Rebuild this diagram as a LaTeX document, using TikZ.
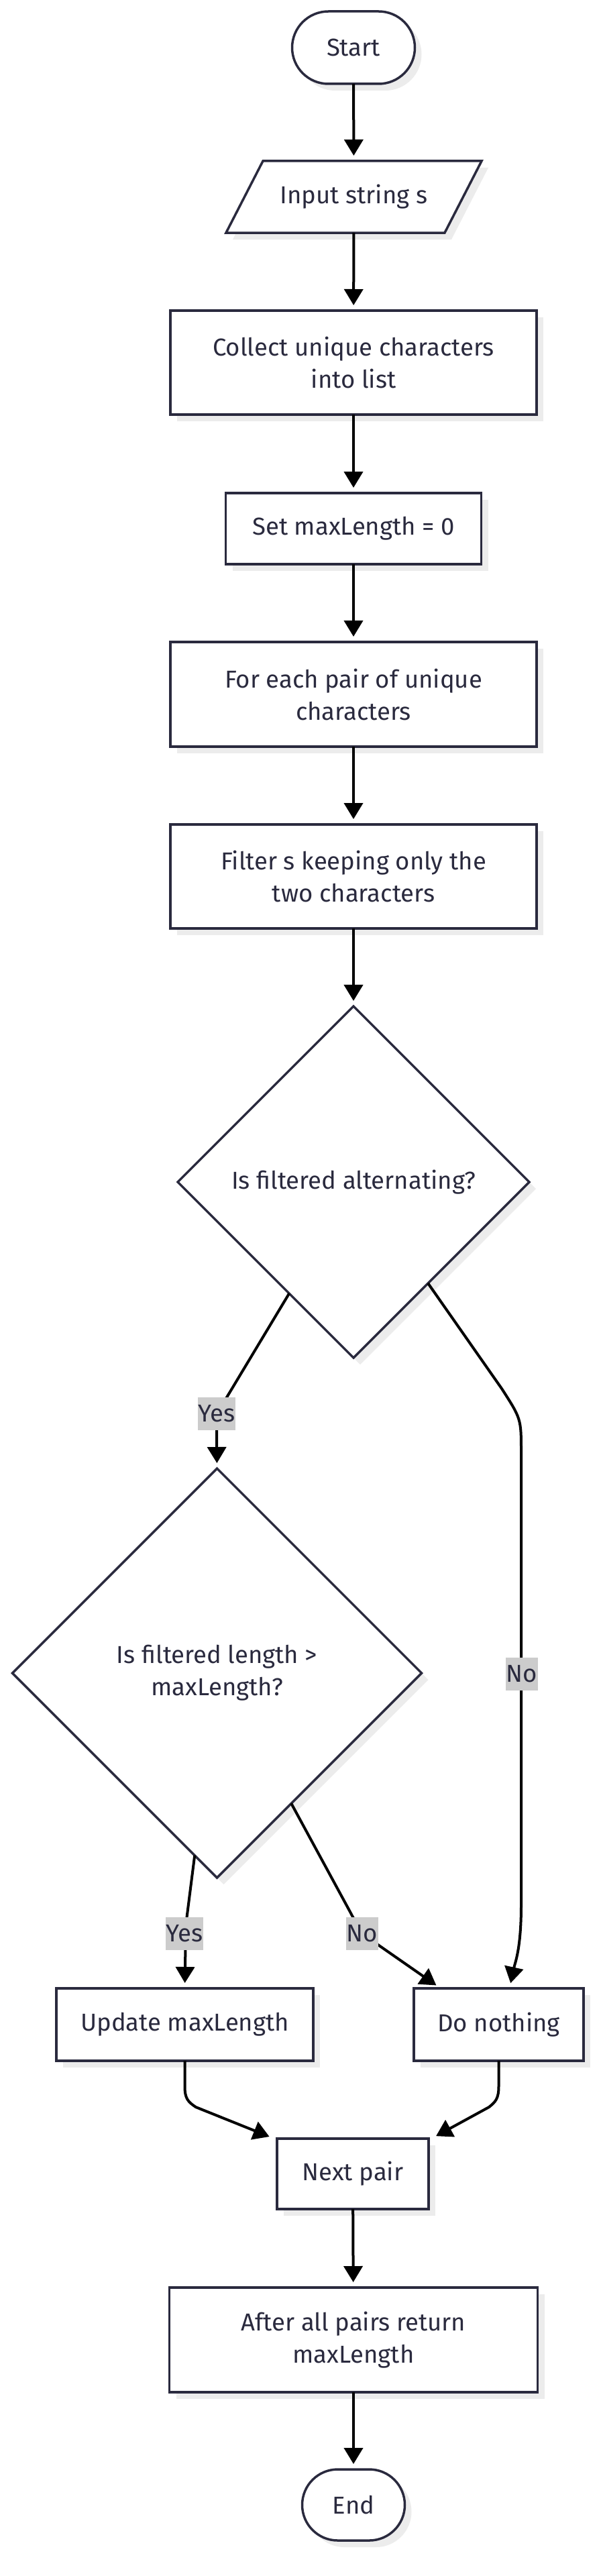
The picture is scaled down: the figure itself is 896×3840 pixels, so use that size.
\documentclass[tikz,border=0pt]{standalone}
\usepackage{fontspec}
\setmainfont{Fira Sans}
\usetikzlibrary{shapes.geometric,shapes.misc,arrows.meta,shadows,calc}
\definecolor{nodeline}{RGB}{42,42,62}
\definecolor{txt}{RGB}{42,42,62}
\definecolor{shad}{RGB}{236,236,236}
\definecolor{lblbg}{RGB}{204,204,204}
\begin{document}
\begin{tikzpicture}[x=1pt,y=-1pt,
  font=\fontsize{36.5}{48}\selectfont,
  shadowed/.style={drop shadow={shadow xshift=10pt, shadow yshift=-10pt, fill=shad, opacity=1}},
  base/.style={draw=nodeline, line width=3.5pt, fill=white, text=txt, align=center, inner sep=0pt, outer sep=0pt, shadowed},
  procbox/.style={base, rectangle},
  termbox/.style={base, rounded rectangle},
  decbox/.style={base, diamond, aspect=1},
  conn/.style={line width=4pt, draw=black, -{Triangle[length=24pt,width=28pt]}, shorten >=8pt},
  lbl/.style={fill=lblbg, text=txt, inner xsep=1pt, inner ysep=0pt, minimum height=49pt},
]
\fill[white] (0,0) rectangle (896,3840);
\useasboundingbox (0,0) rectangle (896,3840);

% nodes
\node[termbox, minimum width=183pt, minimum height=108pt] (start) at (527,71) {Start};
\draw[draw=nodeline, line width=3.5pt, fill=white, shadowed] (392,240) -- (718,240) -- (663,347) -- (337,347) -- cycle;
\node[text=txt, inner sep=0pt, outer sep=0pt, minimum width=326pt, minimum height=107pt] (inp) at (527.5,293.5) {Input string s};
\node[procbox, minimum width=546pt, minimum height=155pt] (collect) at (527,540.5) {Collect unique characters\\into list};
\node[procbox, minimum width=381pt, minimum height=106pt] (set) at (527,788) {Set maxLength = 0};
\node[procbox, minimum width=546pt, minimum height=156pt] (foreach) at (527,1035) {For each pair of unique\\characters};
\node[procbox, minimum width=546pt, minimum height=155pt] (filter) at (527,1306.5) {Filter s keeping only the\\two characters};
\node[decbox, minimum width=524pt, minimum height=524pt] (d1) at (527,1762) {Is filtered alternating?};
\node[decbox, minimum width=610pt, minimum height=610pt] (d2) at (323.5,2494) {Is filtered length >\\maxLength?};
\node[procbox, minimum width=383pt, minimum height=108pt] (update) at (275.5,3018) {Update maxLength};
\node[procbox, minimum width=253pt, minimum height=108pt] (donoth) at (743.5,3018) {Do nothing};
\node[procbox, minimum width=226pt, minimum height=105pt] (next) at (526,3240.5) {Next pair};
\node[procbox, minimum width=549pt, minimum height=156pt] (after) at (527,3488) {After all pairs return\\maxLength};
\node[termbox, minimum width=153pt, minimum height=106pt] (end) at (527,3734) {End};

% connectors
\draw[conn] (start) -- (inp);
\draw[conn] (inp) -- (collect);
\draw[conn] (collect) -- (set);
\draw[conn] (set) -- (foreach);
\draw[conn] (foreach) -- (filter);
\draw[conn] (filter) -- (d1);
\draw[conn] ($(d1.west)!0.634!(d1.south)$) -- (335,2088) .. controls (323,2106) .. (323,2135) -- (d2.north);
\draw[conn] ($(d1.east)!0.576!(d1.south)$) -- (748,2070) .. controls (777,2115) .. (777,2165) -- (777,2840) .. controls (777,2905) and (768,2925) .. ($(donoth.north)+(16,0)$);
\draw[conn] ($(d2.west)!0.891!(d2.south)$) -- (277,2870) -- (update.north);
\draw[conn] ($(d2.east)!0.637!(d2.south)$) -- (522,2850) .. controls (535,2876) and (548,2888) .. (565,2900) -- ($(donoth.north west)+(40,0)$);
\draw[conn] (update.south) -- (275.5,3110) .. controls (275.5,3128) and (280,3133) .. (292,3141) -- ($(next.north west)+(-4,0)$);
\draw[conn] (donoth.south) -- (743.5,3110) .. controls (743.5,3128) and (739,3133) .. (729,3141) -- ($(next.north east)+(4,0)$);
\draw[conn] (next) -- (after);
\draw[conn] (after) -- (end);

% labels
\node[lbl] (l1) at (323,2107) {Yes};
\node[lbl] (l2) at (778,2495) {No};
\node[lbl] (l3) at (275,2882) {Yes};
\node[lbl] (l4) at (540,2882) {No};
\end{tikzpicture}
\end{document}
